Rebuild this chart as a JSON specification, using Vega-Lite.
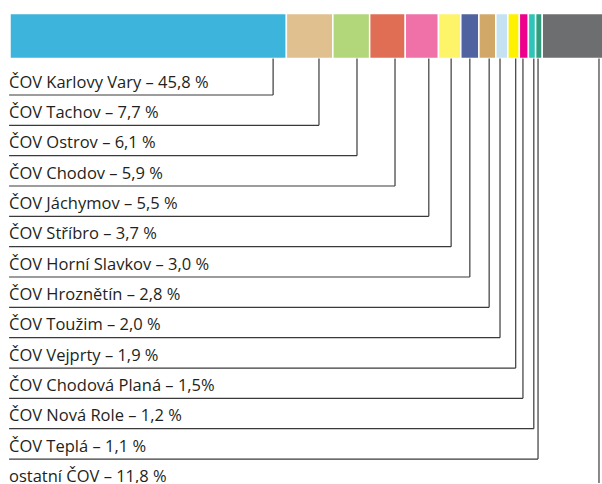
{
  "$schema": "https://vega.github.io/schema/vega-lite/v6.json",
  "width": 592,
  "height": 479,
  "autosize": {"type": "none"},
  "padding": {"left": 10, "top": 4, "right": 0, "bottom": 0},
  "background": "white",
  "config": {"view": {"stroke": null}, "font": "Open Sans"},
  "data": {
    "values": [
      {"rank": 1, "name": "ČOV Karlovy Vary", "share": 45.8, "anchor": 43.6, "label": "ČOV Karlovy Vary – 45,8 %"},
      {"rank": 2, "name": "ČOV Tachov", "share": 7.7, "anchor": 51.2, "label": "ČOV Tachov – 7,7 %"},
      {"rank": 3, "name": "ČOV Ostrov", "share": 6.1, "anchor": 57.5, "label": "ČOV Ostrov – 6,1 %"},
      {"rank": 4, "name": "ČOV Chodov", "share": 5.9, "anchor": 63.8, "label": "ČOV Chodov – 5,9 %"},
      {"rank": 5, "name": "ČOV Jáchymov", "share": 5.5, "anchor": 69.4, "label": "ČOV Jáchymov – 5,5 %"},
      {"rank": 6, "name": "ČOV Stříbro", "share": 3.7, "anchor": 73.1, "label": "ČOV Stříbro – 3,7 %"},
      {"rank": 7, "name": "ČOV Horní Slavkov", "share": 3.0, "anchor": 76.2, "label": "ČOV Horní Slavkov – 3,0 %"},
      {"rank": 8, "name": "ČOV Hroznětín", "share": 2.8, "anchor": 79.4, "label": "ČOV Hroznětín – 2,8 %"},
      {"rank": 9, "name": "ČOV Toužim", "share": 2.0, "anchor": 81.2, "label": "ČOV Toužim – 2,0 %"},
      {"rank": 10, "name": "ČOV Vejprty", "share": 1.9, "anchor": 83.8, "label": "ČOV Vejprty – 1,9 %"},
      {"rank": 11, "name": "ČOV Chodová Planá", "share": 1.5, "anchor": 85.0, "label": "ČOV Chodová Planá – 1,5%"},
      {"rank": 12, "name": "ČOV Nová Role", "share": 1.2, "anchor": 86.8, "label": "ČOV Nová Role – 1,2 %"},
      {"rank": 13, "name": "ČOV Teplá", "share": 1.1, "anchor": 87.5, "label": "ČOV Teplá – 1,1 %"},
      {"rank": 14, "name": "ostatní ČOV", "share": 11.8, "anchor": 97.6, "label": "ostatní ČOV – 11,8 %"}
    ]
  },
  "layer": [
    {
      "transform": [
        {"stack": "share", "groupby": [], "sort": [{"field": "rank", "order": "ascending"}], "as": ["x0", "x1"]}
      ],
      "mark": {"type": "bar", "clip": true, "stroke": "white", "strokeWidth": 1.5},
      "encoding": {
        "x": {"field": "x0", "type": "quantitative", "scale": {"domain": [0, 98.1]}, "axis": null},
        "x2": {"field": "x1"},
        "y": {"datum": -1.69, "type": "quantitative", "scale": {"domain": [-2, 13.79], "reverse": true}, "axis": null},
        "y2": {"datum": -0.2},
        "color": {
          "field": "name",
          "type": "nominal",
          "scale": {
            "domain": ["ČOV Karlovy Vary", "ČOV Tachov", "ČOV Ostrov", "ČOV Chodov", "ČOV Jáchymov", "ČOV Stříbro", "ČOV Horní Slavkov", "ČOV Hroznětín", "ČOV Toužim", "ČOV Vejprty", "ČOV Chodová Planá", "ČOV Nová Role", "ČOV Teplá", "ostatní ČOV"],
            "range": ["#3db4dc", "#dfc08e", "#b2d67a", "#e06e55", "#f070a8", "#fef46a", "#5063a0", "#d2a868", "#c4e2f2", "#fff200", "#ec008c", "#2ec4b8", "#2e9e7e", "#6d6e70"]
          },
          "legend": null
        }
      }
    },
    {
      "mark": {"type": "rule", "color": "#3a3a3a", "strokeWidth": 1.2},
      "encoding": {
        "x": {"field": "anchor", "type": "quantitative", "scale": {"domain": [0, 98.1]}, "axis": null},
        "x2": {"datum": -0.15},
        "y": {"field": "rank", "type": "quantitative", "scale": {"domain": [-2, 13.79], "reverse": true}, "axis": null}
      }
    },
    {
      "mark": {"type": "rule", "color": "#3a3a3a", "strokeWidth": 1.2},
      "encoding": {
        "x": {"field": "anchor", "type": "quantitative", "scale": {"domain": [0, 98.1]}, "axis": null},
        "y": {"field": "rank", "type": "quantitative", "scale": {"domain": [-2, 13.79], "reverse": true}, "axis": null},
        "y2": {"datum": -0.2}
      }
    },
    {
      "mark": {"type": "text", "align": "left", "baseline": "alphabetic", "dx": -1, "dy": -7.5, "fontSize": 16.5, "color": "#231f20"},
      "encoding": {
        "x": {"datum": 0, "type": "quantitative", "scale": {"domain": [0, 98.1]}, "axis": null},
        "y": {"field": "rank", "type": "quantitative", "scale": {"domain": [-2, 13.79], "reverse": true}, "axis": null},
        "text": {"field": "label", "type": "nominal"}
      }
    }
  ]
}
